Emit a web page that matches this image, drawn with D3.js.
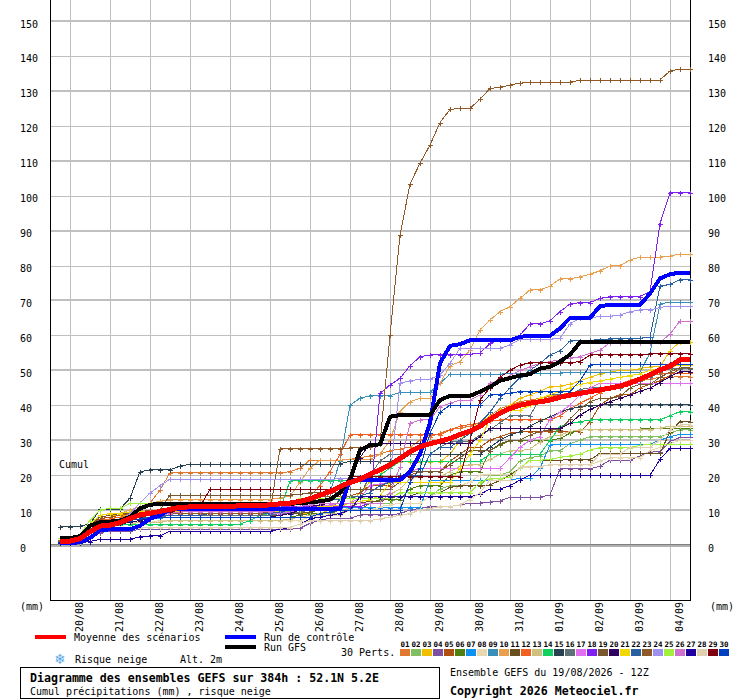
<!DOCTYPE html>
<html>
<head>
<meta charset="utf-8">
<script src="https://cdn.jsdelivr.net/npm/d3@7"></script>
<style>
body { margin: 0; background: #fff; }
svg text { font-family: "DejaVu Sans Mono", "Liberation Mono", monospace; font-size: 10px; fill: #000; }
</style>
</head>
<body>
<div id="chart"></div>
<script>
// 6-hourly steps of the GEFS run (hours after 19/08 12Z)
var hours = d3.range(6, 385, 6);
var dayHours = d3.range(12, 384, 24);
var dayLabels = ["20/08","21/08","22/08","23/08","24/08","25/08","26/08","27/08",
                 "28/08","29/08","30/08","31/08","01/09","02/09","03/09","04/09"];
var yTicks = d3.range(0, 151, 10);
var memberLabels = ["01","02","03","04","05","06","07","08","09","10","11","12","13","14","15",
                    "16","17","18","19","20","21","22","23","24","25","26","27","28","29","30"];
var memberColors = ["#e07830","#80c060","#f0c000","#8050a0","#b05010","#508010","#1090f0","#e8d8b0",
                    "#3890b8","#e8a050","#6a5020","#f06020","#d0c080","#10d060","#284050","#607078",
                    "#e070f0","#8020f0","#785830","#300060","#f0d800","#2860a0","#905a28","#a090f0",
                    "#a0f040","#d070d0","#2000a0","#e0d0b0","#800010","#0040c0"];

// cumulative precipitation (mm), one value per 6h step
var mean = [1.1, 1.1,1.8,3.8,5.4, 5.7,6.4,7.6,8.6, 9.1,9.6,10.2,10.8, 10.9,11.0,11.0,11.1, 11.1,11.2,11.2,11.3, 11.5,11.8,12.0,12.5, 13.2,14.3,15.3,16.7, 17.9,18.8,20.3,21.5, 22.9,24.8,26.7,28.1, 29.0,29.7,30.5,31.6, 32.6,34.0,36.0,37.7, 39.1,40.0,40.6,41.0, 41.5,42.3,42.9,43.4, 43.9,44.4,44.9,45.5, 46.3,47.5,48.7,50.1, 51.2,53.0,53.0];
var control = [0.5, 0.5,0.8,2.0,4.2, 4.5,4.5,4.5,5.5, 7.5,8.5,10.2,10.2, 10.2,10.2,10.2,10.2, 10.2,10.2,10.2,10.2, 10.2,10.2,10.2,10.2, 10.2,10.2,10.2,10.4, 18.6,18.6,18.6,18.6, 18.6,18.6,21.0,26.0, 35.0,52.0,57.0,57.5, 58.6,58.6,58.6,58.6, 58.6,59.6,59.9,59.9, 59.9,62.0,65.0,65.0, 65.0,68.4,68.7,68.7, 68.7,68.7,72.0,76.3, 77.5,78.0,78.0];
var gfs = [2.0, 2.0,2.5,5.5,6.5, 6.7,7.0,8.0,10.5, 11.5,11.8,11.8,11.8, 11.8,11.8,11.8,11.8, 11.8,11.8,11.8,11.8, 11.8,11.8,11.8,12.0, 12.2,12.5,13.0,15.0, 18.6,27.2,28.6,28.8, 36.7,37.2,37.2,37.2, 37.2,41.5,42.7,42.7, 42.7,43.9,45.3,47.0, 47.8,48.5,48.9,50.5, 51.0,52.5,54.5,58.0, 58.0,58.0,58.0,58.0, 58.0,58.0,58.0,58.0, 58.0,58.0,58.0];

var m01 = [1.5, 1.5,2.0,5.0,7.0, 7.5,8.0,9.0,10.0, 12.0,15.7,20.7,20.7, 20.7,20.7,20.7,20.7, 20.7,20.7,20.7,20.7, 20.7,20.7,21.0,22.0, 24.3,24.3,24.3,24.3, 24.5,25.0,25.5,26.0, 27.0,27.5,28.0,30.0, 31.0,32.0,33.0,33.5, 34.0,35.0,37.0,39.0, 40.0,41.0,41.5,42.0, 42.5,43.0,43.5,44.0, 44.5,45.0,45.5,46.0, 46.5,47.0,47.5,48.0, 48.0,48.2,48.2];
var m02 = [1.0, 1.0,1.5,4.0,7.0, 7.5,8.0,8.0,8.5, 9.0,9.5,9.5,9.5, 9.5,9.5,9.5,9.5, 9.5,9.5,9.5,9.5, 9.5,9.5,9.5,10.0, 10.0,10.0,10.0,10.5, 11.0,11.0,12.0,12.0, 12.0,14.0,14.0,14.0, 14.0,16.0,17.0,17.0, 17.0,17.0,20.0,20.0, 21.0,24.0,25.0,25.5, 27.0,27.0,29.0,30.0, 31.0,31.0,31.0,31.0, 31.0,31.0,31.0,31.0, 32.0,33.0,33.0];
var m03 = [1.5, 1.5,2.5,6.0,8.0, 8.5,8.5,8.5,9.0, 9.0,9.0,9.0,9.0, 9.0,9.0,9.0,9.0, 9.0,9.0,9.0,9.0, 9.0,9.0,9.0,9.0, 9.0,9.0,10.0,11.0, 12.0,15.0,18.0,20.0, 23.8,23.8,23.8,23.8, 23.8,23.8,26.0,30.0, 33.0,35.0,37.0,38.0, 40.0,42.0,43.0,44.0, 45.3,45.5,46.0,47.0, 48.0,49.0,49.5,50.0, 50.0,50.5,51.0,51.0, 55.6,58.2,58.2];
var m04 = [0.8, 0.8,1.0,2.5,3.5, 4.0,4.0,4.0,4.5, 4.5,4.5,4.5,4.5, 4.5,4.5,4.5,4.5, 4.5,4.5,4.5,4.5, 4.5,4.5,4.5,4.8, 6.2,7.2,7.6,7.6, 7.6,8.6,8.6,8.6, 8.6,9.0,10.0,10.5, 11.0,11.0,11.0,11.5, 12.0,12.0,12.3,12.6, 13.7,13.7,13.7,13.7, 14.3,21.8,21.8,21.8, 21.8,22.6,24.3,24.3, 24.3,25.5,26.7,26.7, 29.6,30.8,30.8];
var m05 = [1.2, 1.2,2.0,5.0,7.5, 8.0,8.5,9.0,9.5, 10.0,10.0,10.0,10.0, 10.0,10.0,10.0,10.0, 10.0,10.0,10.0,10.0, 10.0,10.0,10.5,11.0, 12.0,14.0,14.0,14.0, 14.0,15.0,17.0,17.0, 17.0,19.0,20.0,21.0, 21.0,21.0,24.0,26.0, 28.0,28.0,30.0,31.0, 32.0,32.4,32.4,32.4, 32.4,32.4,32.4,32.4, 35.3,40.0,42.0,43.0, 43.0,45.0,46.0,47.0, 48.5,50.5,50.5];
var m06 = [1.0, 1.0,1.5,4.0,6.0, 6.5,7.0,7.0,7.5, 7.5,8.0,8.0,8.0, 8.0,8.0,8.0,8.0, 8.0,8.0,8.0,8.0, 8.0,8.0,8.0,8.5, 9.0,9.0,9.0,10.0, 10.0,10.0,12.0,13.0, 13.0,13.0,16.0,17.0, 17.0,17.0,20.0,21.0, 21.0,21.0,27.0,28.6, 29.9,29.9,29.9,29.9, 29.9,30.5,32.0,33.0, 33.0,33.0,33.0,33.0, 33.0,33.2,33.4,33.4, 33.4,33.4,33.4];
var m07 = [0.8, 0.8,1.2,3.5,5.5, 6.0,6.5,7.0,7.5, 7.5,7.8,8.0,8.0, 8.0,8.0,8.0,8.0, 8.0,8.0,8.0,8.0, 8.0,8.0,8.0,10.6, 10.6,10.6,10.6,10.6, 10.6,10.6,10.6,10.6, 10.6,10.6,10.6,10.6, 18.6,18.6,18.6,18.6, 18.6,18.6,18.6,18.6, 18.6,19.1,19.1,22.0, 28.6,28.9,28.9,28.9, 28.9,28.9,28.9,28.9, 28.9,28.9,28.9,30.0, 31.0,31.7,31.7];
var m08 = [1.0, 1.0,1.5,3.5,5.5, 6.0,6.0,6.5,6.5, 6.5,7.0,7.0,7.0, 7.0,7.0,7.0,7.0, 7.0,7.0,7.0,7.0, 7.0,7.0,7.0,7.0, 8.0,8.5,8.5,8.5, 10.0,10.0,10.0,11.0, 11.5,12.0,12.0,12.0, 14.0,15.0,15.0,17.0, 18.0,20.0,20.3,20.3, 20.3,22.0,22.4,22.4, 23.0,23.0,23.0,23.0, 23.0,24.0,25.0,25.0, 25.0,25.0,27.0,28.0, 29.0,30.0,30.0];
var m09 = [1.5, 1.5,2.5,5.0,6.5, 7.0,7.5,8.0,8.5, 9.0,9.5,10.0,10.0, 10.0,10.5,10.5,11.0, 11.0,11.0,11.5,11.5, 12.0,12.0,12.0,12.0, 12.0,12.0,15.0,24.0, 40.0,42.0,42.7,42.7, 42.7,43.7,43.7,43.7, 43.7,46.3,48.9,48.9, 48.9,48.9,48.9,48.9, 49.2,49.2,49.2,49.2, 49.2,49.2,49.5,49.5, 49.5,49.5,49.5,49.5, 49.5,49.5,55.0,69.0, 69.5,69.5,69.5];
var m10 = [1.5, 1.5,2.5,6.0,8.0, 8.5,9.0,10.0,11.0, 12.0,12.5,13.0,13.0, 13.0,13.0,13.0,13.0, 13.0,13.0,13.0,13.0, 13.0,13.5,14.0,18.0, 22.0,24.3,24.3,24.3, 24.5,24.5,24.5,26.0, 30.0,38.2,41.0,42.0, 42.0,46.3,51.3,52.5, 55.8,61.5,64.4,66.8, 68.2,70.6,73.0,73.0, 74.1,76.2,76.2,76.8, 77.5,78.5,79.9,79.9, 81.6,82.4,82.4,82.4, 82.7,83.3,83.3];
var m11 = [1.0, 1.0,1.5,4.5,6.5, 7.0,7.0,7.5,8.0, 8.0,8.5,8.5,8.5, 8.5,8.5,8.5,8.5, 8.5,8.5,8.5,8.5, 8.5,8.5,9.0,9.0, 9.5,10.0,10.0,11.0, 11.0,12.0,12.5,12.5, 13.5,14.0,14.0,15.0, 15.0,15.0,16.5,17.0, 17.0,17.0,17.2,18.5, 20.0,22.0,24.3,24.3, 24.3,24.3,24.4,24.4, 24.4,26.2,26.2,26.2, 26.2,26.2,26.2,26.2, 32.4,35.3,35.3];
var m12 = [1.2, 1.2,2.0,5.0,7.0, 7.5,8.0,8.5,9.0, 9.5,10.0,10.0,10.0, 10.0,10.0,10.0,10.0, 10.0,10.0,10.0,10.0, 10.0,10.5,11.0,12.0, 14.0,17.0,21.0,26.0, 31.5,31.5,31.5,31.5, 31.5,31.5,31.5,31.5, 31.5,31.5,33.0,34.0, 34.5,35.0,35.5,35.8, 35.8,35.8,35.8,35.8, 35.8,37.0,39.0,40.6, 42.0,43.5,45.0,46.0, 47.2,48.0,48.5,49.0, 49.2,49.2,49.2];
var m13 = [0.8, 0.8,1.2,3.0,5.0, 5.5,6.0,6.0,6.5, 6.5,6.5,7.0,7.0, 7.0,7.0,7.0,7.0, 7.0,7.0,7.0,7.0, 7.0,7.0,7.5,8.0, 8.5,9.0,9.0,9.0, 11.0,13.5,14.0,14.0, 14.5,16.0,19.0,19.5, 19.5,19.5,21.0,22.5, 23.0,23.0,24.5,26.0, 27.0,27.0,27.5,29.5, 31.0,31.5,32.5,33.0, 33.0,33.0,33.0,33.0, 33.0,33.0,33.0,33.5, 34.0,34.0,34.0];
var m14 = [0.8, 0.8,1.2,3.5,5.5, 5.8,5.8,5.8,5.8, 5.8,5.8,5.8,5.8, 5.8,5.8,5.8,5.8, 5.8,6.0,7.0,8.5, 9.0,10.0,18.4,18.4, 18.4,18.4,18.4,18.4, 18.4,18.4,18.4,20.0, 22.0,24.0,24.0,24.0, 24.0,24.0,24.0,24.0, 24.0,24.0,26.0,26.0, 26.0,26.0,26.0,26.0, 30.0,33.9,34.8,35.3, 35.8,35.8,35.8,35.8, 35.8,35.8,35.8,35.8, 37.0,38.2,38.2];
var m15 = [5.2, 5.2,5.4,6.0,10.3, 10.3,10.3,13.4,21.0, 21.5,21.5,21.5,22.6, 23.1,23.1,23.1,23.1, 23.1,23.1,23.1,23.1, 23.1,23.1,23.1,23.1, 23.1,23.1,23.1,23.2, 24.0,24.0,24.0,24.0, 24.0,24.0,26.0,26.0, 26.0,26.0,26.0,26.0, 26.0,26.0,28.0,30.0, 31.5,32.4,34.0,35.5, 36.7,38.0,39.0,39.6, 39.9,40.1,40.1,40.1, 40.1,40.1,40.1,40.1, 40.1,40.1,40.1];
var m16 = [1.0, 1.0,1.5,4.0,6.0, 6.5,7.0,7.0,7.5, 8.0,8.0,8.5,8.5, 8.5,8.5,8.5,8.5, 8.5,8.5,8.5,8.5, 8.5,9.0,9.0,9.5, 10.0,10.0,10.0,13.0, 14.0,14.0,20.0,24.0, 26.0,26.0,26.0,26.0, 26.0,28.0,29.5,29.5, 29.5,31.5,33.0,35.0, 37.0,37.0,37.0,42.0, 43.0,43.0,43.0,44.5, 45.0,45.0,45.0,45.0, 46.5,47.0,48.0,49.5, 50.5,50.5,50.5];
var m17 = [1.0, 1.0,1.5,4.0,6.0, 6.5,7.0,7.5,8.0, 8.5,8.5,9.0,9.0, 9.0,9.0,9.0,9.0, 9.0,9.0,9.0,9.0, 9.0,9.0,9.5,10.0, 10.5,11.0,11.5,12.0, 12.0,13.5,17.0,17.5, 18.0,19.0,21.0,22.0, 22.0,22.0,22.0,22.0, 22.0,22.0,22.0,22.0, 25.0,28.0,30.0,31.0, 36.0,38.0,40.0,43.0, 45.0,46.3,46.3,46.3, 46.3,46.3,46.3,46.3, 46.3,46.3,46.3];
var m18 = [1.0, 1.0,1.5,4.0,5.5, 6.0,6.5,7.0,8.0, 8.5,9.0,9.5,10.0, 10.5,11.0,11.0,11.0, 11.0,11.0,11.0,11.0, 11.0,11.0,11.0,11.0, 11.0,11.0,11.0,11.0, 11.0,11.0,12.0,43.4, 45.8,47.7,51.3,53.9, 54.4,54.4,54.4,54.5, 54.6,54.9,57.7,58.7, 58.7,60.1,63.3,63.3, 64.2,66.8,69.0,69.4, 69.4,70.6,71.1,71.1, 71.1,71.1,72.5,92.0, 100.9,100.9,100.9];
var m19 = [1.2, 1.2,2.0,5.5,8.0, 8.5,9.0,9.0,9.5, 9.5,10.0,14.3,14.3, 14.3,14.3,14.3,14.3, 14.3,14.3,14.3,14.3, 14.3,14.3,14.3,14.5, 15.0,15.0,15.0,15.0, 16.0,16.0,16.0,16.0, 16.0,18.0,21.0,21.0, 21.0,21.0,23.0,25.0, 27.0,27.0,27.0,29.0, 30.0,30.0,31.5,32.5, 33.0,33.0,36.0,39.0, 41.0,42.0,42.0,42.5, 45.0,46.0,46.0,48.0, 49.5,50.8,50.8];
var m20 = [0.5, 0.5,1.0,3.0,5.0, 5.5,6.0,6.5,7.0, 7.5,8.0,8.0,8.0, 8.0,8.0,8.0,8.0, 8.0,8.0,8.0,8.0, 8.0,8.5,9.0,10.0, 11.0,11.5,12.0,12.0, 20.0,25.0,29.1,29.1, 29.1,29.1,29.1,29.1, 29.1,29.1,29.1,29.1, 29.1,31.0,33.4,33.4, 33.4,33.4,33.4,33.4, 33.4,33.4,34.8,37.2, 38.8,40.0,41.0,42.0, 42.9,44.0,44.9,46.5, 48.2,49.6,49.6];
var m21 = [1.5, 1.5,2.5,6.0,8.5, 9.0,9.0,9.5,9.5, 9.5,9.5,9.5,9.5, 9.5,9.5,9.5,9.5, 9.5,9.5,9.5,9.5, 9.5,9.5,10.0,10.0, 10.5,11.0,11.0,11.5, 12.0,12.5,13.0,14.0, 18.0,18.0,18.0,18.0, 18.0,18.0,18.0,22.0, 26.0,30.0,36.0,38.6, 38.6,38.6,40.0,42.0, 43.0,44.0,45.0,46.0, 46.5,47.0,47.5,48.0, 48.5,49.0,50.0,50.5, 51.0,51.5,51.5];
var m22 = [1.0, 1.0,1.5,4.0,6.0, 6.5,7.0,7.5,8.0, 8.0,8.5,8.5,8.5, 8.5,8.5,9.0,9.0, 9.0,9.0,9.0,9.0, 9.0,9.5,10.0,11.0, 12.0,12.5,13.0,13.0, 13.5,14.0,15.0,17.0, 18.0,20.0,20.0,20.0, 26.0,28.0,28.0,30.0, 32.0,35.0,38.0,42.0, 45.0,48.0,50.0,52.0, 54.4,55.6,58.4,58.4, 58.6,58.8,59.0,59.0, 59.0,59.2,59.5,74.1, 74.6,76.0,76.0];
var m23 = [1.5, 1.5,2.0,4.5,6.0, 6.5,6.8,7.5,8.5, 8.8,9.0,9.0,9.0, 9.0,9.0,9.0,9.0, 9.0,9.0,9.0,9.0, 9.5,27.5,27.5,27.5, 27.5,27.5,27.5,27.5, 27.8,27.8,28.0,29.0, 60.0,88.7,103.3,109.3, 114.5,120.9,124.7,125.0, 125.0,127.6,130.7,131.0, 131.7,132.2,132.5,132.5, 132.5,132.5,132.5,133.0, 133.0,133.0,133.0,133.0, 133.0,133.0,133.0,133.1, 135.7,136.2,136.2];
var m24 = [1.0, 1.0,1.5,4.0,6.0, 6.5,7.0,9.0,12.0, 14.8,17.0,18.8,18.8, 18.8,18.8,18.8,18.8, 18.8,18.8,18.8,18.8, 18.8,18.8,18.8,18.8, 18.8,18.8,18.8,19.0, 19.0,19.0,19.0,19.0, 19.5,46.3,47.0,47.5, 47.5,48.7,52.0,56.3, 56.3,56.3,56.3,56.3, 57.3,58.9,58.9,58.9, 58.9,59.2,63.3,64.9, 64.9,65.5,65.5,65.8, 66.8,67.3,67.3,68.0, 68.4,68.4,68.4];
var m25 = [2.0, 2.0,3.0,7.0,10.0, 10.5,10.5,11.9,11.9, 11.8,11.8,11.8,11.8, 11.8,11.8,11.8,11.8, 11.8,11.8,11.8,11.8, 11.8,11.8,11.8,13.4, 13.4,13.4,13.4,13.4, 13.4,13.4,13.4,13.4, 13.4,15.0,15.0,15.0, 15.0,15.0,15.0,15.0, 15.0,18.0,19.0,19.0, 19.5,22.0,24.3,24.3, 24.5,25.1,25.5,26.0, 27.2,27.9,27.9,27.9, 27.9,28.5,28.9,28.9, 28.9,28.9,28.9];
var m26 = [1.0, 1.0,1.5,4.0,6.0, 6.5,7.0,7.5,8.0, 8.5,9.0,9.0,9.5, 9.5,9.5,9.5,9.5, 9.5,9.5,9.5,9.5, 9.5,10.0,10.5,11.0, 11.5,12.0,12.0,12.0, 12.0,12.0,12.0,12.0, 15.0,22.4,34.8,35.8, 35.8,39.6,40.6,41.5, 41.5,42.9,46.3,47.2, 48.5,50.0,51.0,52.0, 52.5,53.0,53.5,53.9, 54.9,55.8,57.9,57.9, 57.9,57.9,57.9,58.0, 60.4,64.1,64.1];
var m27 = [0.5, 0.5,0.6,1.0,1.6, 1.6,1.6,1.6,2.4, 2.6,2.6,4.0,4.0, 4.0,4.0,4.0,4.0, 4.0,4.0,4.0,4.0, 4.0,4.5,5.0,6.0, 7.5,8.0,8.5,9.0, 10.0,13.8,13.8,13.8, 13.8,13.8,13.8,13.8, 13.8,13.8,13.8,13.8, 13.8,14.5,16.0,16.0, 17.0,18.6,20.0,20.0, 20.0,20.0,20.0,20.0, 20.0,20.0,20.0,20.0, 20.0,20.0,20.0,24.5, 27.7,27.7,27.7];
var m28 = [0.8, 0.8,1.0,3.0,4.5, 4.8,5.0,5.0,5.0, 5.0,5.0,5.0,5.0, 5.0,5.0,5.0,5.0, 5.0,5.0,5.0,5.0, 5.0,5.0,5.0,6.0, 7.0,7.0,7.0,7.0, 7.0,7.0,7.0,7.5, 8.0,8.5,9.0,10.0, 10.5,11.0,11.0,11.5, 13.0,15.0,18.6,18.6, 18.6,22.4,22.4,22.4, 23.0,23.0,23.0,23.0, 23.0,26.0,26.0,26.0, 28.0,28.0,28.0,30.0, 33.0,34.4,34.4];
var m29 = [1.0, 1.0,1.5,4.0,6.0, 6.5,7.0,7.5,8.0, 8.5,9.0,9.5,10.0, 10.5,11.0,15.9,15.9, 15.9,15.9,15.9,15.9, 15.9,15.9,15.9,15.9, 15.9,15.9,15.9,15.9, 19.6,19.6,19.6,19.6, 19.6,19.6,19.6,19.6, 19.6,19.6,19.6,19.6, 30.0,41.5,45.0,48.0, 50.0,51.5,52.2,52.2, 52.2,52.2,52.2,52.5, 54.4,54.4,54.4,54.4, 54.4,54.4,54.7,54.7, 54.7,54.7,54.7];
var m30 = [1.0, 1.0,1.5,4.0,6.0, 6.5,7.0,7.0,7.5, 7.5,8.0,8.0,8.0, 8.0,8.0,8.0,8.0, 8.0,8.0,8.0,8.0, 8.0,8.0,8.0,8.0, 8.0,9.0,9.5,10.0, 10.0,10.0,10.0,10.0, 10.0,10.0,18.0,22.0, 32.0,38.0,40.0,40.0, 40.0,40.0,43.0,43.0, 43.5,43.9,43.9,43.9, 43.9,43.9,43.9,47.0, 51.5,51.7,51.7,51.7, 51.7,51.7,51.7,51.7, 51.7,51.7,51.7];

var members = [m01,m02,m03,m04,m05,m06,m07,m08,m09,m10,m11,m12,m13,m14,m15,
               m16,m17,m18,m19,m20,m21,m22,m23,m24,m25,m26,m27,m28,m29,m30];

var svg = d3.select("#chart").append("svg")
  .attr("width", 740).attr("height", 700);

var x = d3.scaleLinear().domain([0, 384]).range([50, 690]);
var y = d3.scaleLinear().domain([0, 150]).range([545, 21]);

// grid
var grid = svg.append("g").attr("shape-rendering", "crispEdges");
grid.selectAll("line.v")
  .data(dayHours)
  .enter().append("line")
  .attr("x1", d => Math.round(x(d)) + 0.5).attr("x2", d => Math.round(x(d)) + 0.5)
  .attr("y1", 0).attr("y2", 600)
  .attr("stroke", "#c0c0c0");

grid.selectAll("line.h")
  .data(yTicks.filter(d => d > 0))
  .enter().append("line")
  .attr("x1", 50).attr("x2", 690)
  .attr("y1", d => Math.round(y(d))).attr("y2", d => Math.round(y(d)))
  .attr("stroke", "#c0c0c0")
  .attr("stroke-width", d => (d / 10) % 2 == 1 ? 2 : 1);

grid.append("line")
  .attr("x1", 50).attr("x2", 690)
  .attr("y1", y(0)).attr("y2", y(0))
  .attr("stroke", "#b0b0b0").attr("stroke-width", 3);
grid.append("line")
  .attr("x1", 50).attr("x2", 690)
  .attr("y1", Math.round(y(0)) - 0.5).attr("y2", Math.round(y(0)) - 0.5)
  .attr("stroke", "#808080").attr("stroke-width", 1);

// frame
var frame = svg.append("g").attr("shape-rendering", "crispEdges").attr("stroke", "#000");
frame.append("line").attr("x1", 50.5).attr("x2", 50.5).attr("y1", 0).attr("y2", 600.5);
frame.append("line").attr("x1", 690.5).attr("x2", 690.5).attr("y1", 0).attr("y2", 600.5);
frame.append("line").attr("x1", 50).attr("x2", 691).attr("y1", 600.5).attr("y2", 600.5);

// members
var line = d3.line()
  .x((d, i) => x(hours[i]))
  .y(d => y(d));

var plots = svg.append("g").attr("shape-rendering", "crispEdges").attr("fill", "none");

members.forEach(function(vals, k) {
  plots.append("path")
    .attr("d", line(vals))
    .attr("stroke", memberColors[k])
    .attr("stroke-width", 1);
  var marks = vals.map(function(v, i) {
    var px = Math.round(x(hours[i])), py = Math.round(y(v));
    return "M" + (px - 2) + "," + (py + 0.5) + "h5M" + (px + 0.5) + "," + (py - 2) + "v5";
  }).join("");
  plots.append("path")
    .attr("d", marks)
    .attr("stroke", memberColors[k])
    .attr("stroke-width", 1);
});

plots.append("path").attr("d", line(control))
  .attr("stroke", "#0000ff").attr("stroke-width", 4).attr("stroke-linejoin", "round");
plots.append("path").attr("d", line(gfs))
  .attr("stroke", "#000000").attr("stroke-width", 4).attr("stroke-linejoin", "round");
plots.append("path").attr("d", line(mean))
  .attr("stroke", "#ff0000").attr("stroke-width", 5).attr("stroke-linejoin", "round");

// y labels, left and right
var yl = svg.append("g").attr("transform", "translate(50,0)")
  .call(d3.axisLeft(y).tickValues(yTicks).tickSize(0));
yl.select(".domain").remove();
yl.selectAll("text")
  .attr("text-anchor", "start").attr("x", -30).attr("dy", 0)
  .attr("y", 6)
  .style("font-family", "DejaVu Sans Mono").style("font-size", "10px");

var yr = svg.append("g").attr("transform", "translate(690,0)")
  .call(d3.axisRight(y).tickValues(yTicks).tickSize(0));
yr.select(".domain").remove();
yr.selectAll("text")
  .attr("text-anchor", "start").attr("x", 18).attr("dy", 0)
  .attr("y", 6)
  .style("font-family", "DejaVu Sans Mono").style("font-size", "10px");

// date labels
var xa = svg.append("g").attr("transform", "translate(0,600)")
  .call(d3.axisBottom(x).tickValues(dayHours).tickSize(0)
    .tickFormat((d, i) => dayLabels[i]));
xa.select(".domain").remove();
xa.selectAll("text")
  .attr("transform", "rotate(-90)")
  .attr("text-anchor", "end")
  .attr("x", -2).attr("y", 12).attr("dy", 0)
  .style("font-family", "DejaVu Sans Mono").style("font-size", "10px");

svg.append("text").attr("x", 20).attr("y", 610).text("(mm)");
svg.append("text").attr("x", 710).attr("y", 610).text("(mm)");
svg.append("text").attr("x", 59).attr("y", 468).text("Cumul");

// legend
svg.append("rect").attr("x", 35).attr("y", 635).attr("width", 31).attr("height", 4).attr("fill", "#ff0000");
svg.append("text").attr("x", 74).attr("y", 641).text("Moyenne des scénarios");
svg.append("rect").attr("x", 225).attr("y", 635).attr("width", 31).attr("height", 4).attr("fill", "#0000ff");
svg.append("text").attr("x", 264).attr("y", 641).text("Run de contrôle");
svg.append("rect").attr("x", 225).attr("y", 645).attr("width", 31).attr("height", 4).attr("fill", "#000000");
svg.append("text").attr("x", 264).attr("y", 651).text("Run GFS");
svg.append("text").attr("x", 60).attr("y", 664).attr("text-anchor", "middle")
  .style("font-family", "DejaVu Sans").style("font-size", "14px").style("fill", "#5aa8e8").text("❄");
svg.append("text").attr("x", 75).attr("y", 663).text("Risque neige");
svg.append("text").attr("x", 180).attr("y", 663).text("Alt. 2m");
svg.append("text").attr("x", 341).attr("y", 656).text("30 Perts.");

var sw = svg.append("g");
sw.selectAll("rect")
  .data(memberColors)
  .enter().append("rect")
  .attr("x", (d, i) => 400 + 11 * i).attr("y", 649)
  .attr("width", 10).attr("height", 7)
  .attr("fill", d => d);
sw.selectAll("text")
  .data(memberLabels)
  .enter().append("text")
  .attr("x", (d, i) => 405 + 11 * i).attr("y", 647)
  .attr("text-anchor", "middle")
  .style("font-size", "7.5px").style("font-weight", "bold")
  .text(d => d);

// title box
svg.append("rect").attr("x", 20.5).attr("y", 667.5).attr("width", 419).attr("height", 31)
  .attr("fill", "none").attr("stroke", "#000").attr("shape-rendering", "crispEdges");
svg.append("text").attr("x", 30).attr("y", 682)
  .style("font-weight", "bold").style("font-size", "11.6px")
  .text("Diagramme des ensembles GEFS sur 384h : 52.1N 5.2E");
svg.append("text").attr("x", 30).attr("y", 695).text("Cumul précipitations (mm) , risque neige");
svg.append("text").attr("x", 450).attr("y", 676).text("Ensemble GEFS du 19/08/2026 - 12Z");
svg.append("text").attr("x", 450).attr("y", 695)
  .style("font-weight", "bold").style("font-size", "11.6px")
  .text("Copyright 2026 Meteociel.fr");
</script>
</body>
</html>
